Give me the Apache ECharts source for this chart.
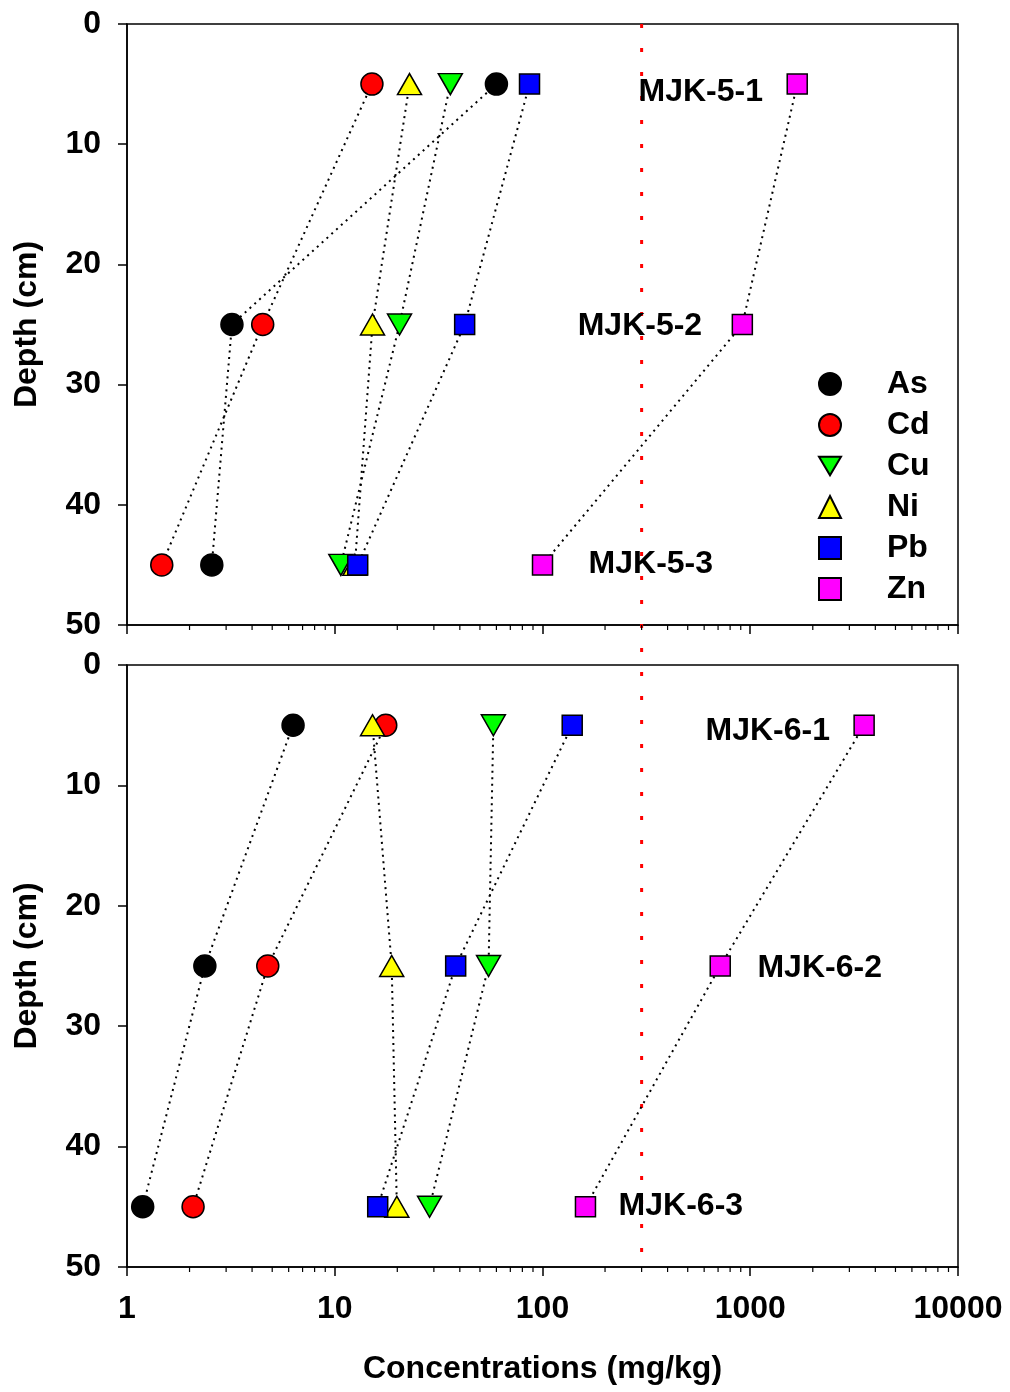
<!DOCTYPE html>
<html>
<head>
<meta charset="utf-8">
<script src="https://cdn.jsdelivr.net/npm/echarts@6/dist/echarts.min.js"></script>
<style>
html, body { margin: 0; padding: 0; background: #fff; }
#main { width: 1010px; height: 1392px; }
</style>
</head>
<body>
<div id="main"></div>
<script>
// sampling depths (cm)
let depths = [5, 25, 45];

// MJK-5 core (top panel), mg/kg
let as_mjk5 = [60, 3.2, 2.56];
let cd_mjk5 = [15.1, 4.5, 1.47];
let cu_mjk5 = [36, 20.5, 10.7];
let ni_mjk5 = [22.9, 15.2, 12.5];
let pb_mjk5 = [86.6, 42.2, 12.9];
let zn_mjk5 = [1683, 916, 100];

// MJK-6 core (bottom panel), mg/kg
let as_mjk6 = [6.3, 2.37, 1.19];
let cd_mjk6 = [17.6, 4.76, 2.08];
let cu_mjk6 = [58, 55, 28.6];
let ni_mjk6 = [15.2, 18.8, 19.9];
let pb_mjk6 = [139, 38.2, 16.1];
let zn_mjk6 = [3533, 717, 161];

// sample labels
let labels5 = ["MJK-5-1", "MJK-5-2", "MJK-5-3"];
let labels5_x = [581, 296, 334];
let labels5_depth = [5.7, 25.2, 45];
let labels6 = ["MJK-6-1", "MJK-6-2", "MJK-6-3"];
let labels6_x = [1221, 2171, 466];
let labels6_depth = [5.5, 25.2, 45];

// reference level
let refLevel = 300;

// minor tick values (2..9 in each decade)
let minorTicks = [];
for (let d = 1; d < 10000; d *= 10) {
    for (let k = 2; k <= 9; k++) minorTicks.push(k * d);
}

const font = '"Liberation Sans", Arial, sans-serif';
const fs = 32;
const downTri = 'path://M0,0 L20,0 L10,17 Z';

let elems = [
    { name: 'As', color: '#000000', symbol: 'circle', size: 22, d5: as_mjk5, d6: as_mjk6 },
    { name: 'Cd', color: '#ff0000', symbol: 'circle', size: 22, d5: cd_mjk5, d6: cd_mjk6 },
    { name: 'Ni', color: '#ffff00', symbol: 'triangle', size: [24, 21], d5: ni_mjk5, d6: ni_mjk6 },
    { name: 'Cu', color: '#00ff00', symbol: downTri, size: [24, 21], d5: cu_mjk5, d6: cu_mjk6 },
    { name: 'Pb', color: '#0000ff', symbol: 'rect', size: 20, d5: pb_mjk5, d6: pb_mjk6 },
    { name: 'Zn', color: '#ff00ff', symbol: 'rect', size: 20, d5: zn_mjk5, d6: zn_mjk6 }
];

function pairs(vals) {
    return vals.map(function (v, i) { return [v, depths[i]]; });
}

const grids = [
    { left: 127, top: 24, width: 831, height: 601, show: true, borderColor: '#000', borderWidth: 1.5 },
    { left: 127, top: 665, width: 831, height: 602, show: true, borderColor: '#000', borderWidth: 1.5 },
    { left: 127, top: 24, width: 831, height: 1243, show: false }
];

const xAxes = [];
const yAxes = [];
for (let g = 0; g < 2; g++) {
    xAxes.push({
        type: 'log', logBase: 10, min: 1, max: 10000, gridIndex: g, position: 'bottom',
        axisLine: { show: true, onZero: false, lineStyle: { color: '#000', width: 1.5 } },
        axisTick: { show: true, inside: false, length: 9, lineStyle: { color: '#000', width: 1.5 } },
        axisLabel: {
            show: g === 1, margin: 26, color: '#000', fontFamily: font, fontWeight: 'bold', fontSize: fs,
            formatter: function (v) { return String(Math.round(v)); }
        },
        splitLine: { show: false },
        name: g === 1 ? 'Concentrations (mg/kg)' : '',
        nameLocation: 'middle', nameGap: 86,
        nameTextStyle: { color: '#000', fontFamily: font, fontWeight: 'bold', fontSize: fs }
    });
    yAxes.push({
        type: 'value', min: 0, max: 50, interval: 10, inverse: true, gridIndex: g,
        axisLine: { show: true, onZero: false, lineStyle: { color: '#000', width: 1.5 } },
        axisTick: { show: true, inside: false, length: 9, lineStyle: { color: '#000', width: 1.5 } },
        axisLabel: { margin: 26, color: '#000', fontFamily: font, fontWeight: 'bold', fontSize: fs },
        splitLine: { show: false },
        name: 'Depth (cm)', nameLocation: 'middle', nameRotate: 90, nameGap: 84,
        nameTextStyle: { color: '#000', fontFamily: font, fontWeight: 'bold', fontSize: fs }
    });
}
// overlay axes for the reference line spanning both panels
xAxes.push({ type: 'log', min: 1, max: 10000, gridIndex: 2, show: false });
yAxes.push({ type: 'value', min: 0, max: 1, inverse: true, gridIndex: 2, show: false });

const series = [];
for (let g = 0; g < 2; g++) {
    elems.forEach(function (e) {
        series.push({
            name: e.name,
            type: 'line',
            xAxisIndex: g,
            yAxisIndex: g,
            data: pairs(g === 0 ? e.d5 : e.d6),
            symbol: e.symbol,
            symbolSize: e.size,
            itemStyle: { color: e.color, borderColor: '#000', borderWidth: 1.5 },
            lineStyle: { color: '#000', width: 2, type: [2, 4.5] },
            emphasis: { disabled: true },
            z: 3
        });
    });
    const ln = g === 0 ? labels5 : labels6;
    const lx = g === 0 ? labels5_x : labels6_x;
    const ld = g === 0 ? labels5_depth : labels6_depth;
    series.push({
        type: 'scatter',
        xAxisIndex: g,
        yAxisIndex: g,
        symbolSize: 1,
        itemStyle: { color: '#fff', opacity: 1 },
        silent: true,
        z: 5,
        data: ln.map(function (n, i) { return { name: n, value: [lx[i], ld[i]] }; }),
        label: {
            show: true, position: [0, 0], align: 'center', verticalAlign: 'middle', formatter: '{b}',
            color: '#000', textBorderWidth: 0, fontFamily: font, fontWeight: 'bold', fontSize: fs
        }
    });
    // minor ticks of the log axis
    series.push({
        type: 'custom',
        xAxisIndex: g,
        yAxisIndex: g,
        silent: true,
        clip: false,
        data: minorTicks.map(function (v) { return [v, 50]; }),
        renderItem: function (params, api) {
            const p = api.coord([api.value(0), api.value(1)]);
            return {
                type: 'line',
                shape: { x1: p[0], y1: p[1], x2: p[0], y2: p[1] + 5 },
                style: { stroke: '#000', lineWidth: 1.2 }
            };
        }
    });
}
series.push({
    type: 'line',
    xAxisIndex: 2,
    yAxisIndex: 2,
    data: [[refLevel, 0], [refLevel, 1]],
    symbol: 'none',
    silent: true,
    lineStyle: { color: '#ff0000', width: 3, type: [4, 20] },
    z: 1
});

const chart = echarts.init(document.getElementById('main'));
chart.setOption({
    animation: false,
    backgroundColor: '#fff',
    grid: grids,
    xAxis: xAxes,
    yAxis: yAxes,
    legend: {
        orient: 'vertical',
        left: 813,
        top: 363,
        itemWidth: 22,
        itemHeight: 22,
        itemGap: 9,
        selectedMode: false,
        data: [
            { name: 'As', icon: 'circle' },
            { name: 'Cd', icon: 'circle' },
            { name: 'Cu', icon: downTri },
            { name: 'Ni', icon: 'triangle' },
            { name: 'Pb', icon: 'rect' },
            { name: 'Zn', icon: 'rect' }
        ],
        textStyle: { color: '#000', fontFamily: font, fontWeight: 'bold', fontSize: fs, lineHeight: 30, padding: [0, 0, 0, 41] }
    },
    series: series
});
</script>
</body>
</html>
